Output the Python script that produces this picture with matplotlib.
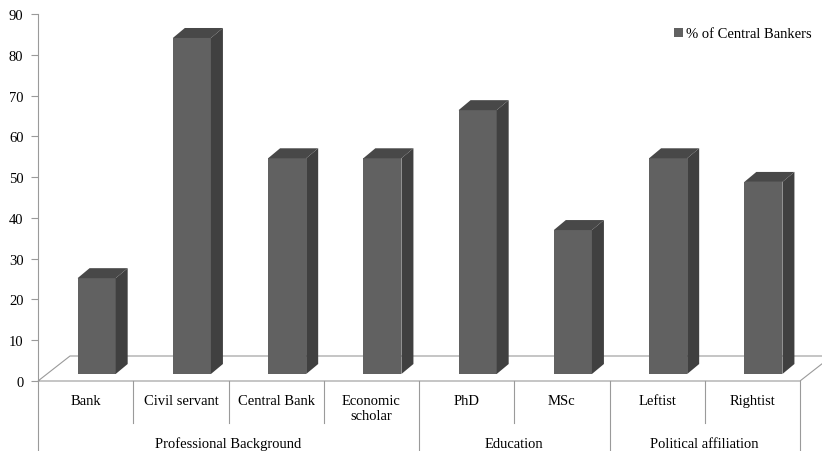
import matplotlib
matplotlib.use("Agg")
import matplotlib.pyplot as plt
import matplotlib.transforms as mtransforms
from matplotlib.patches import Polygon, Patch
from matplotlib.lines import Line2D

# data
categories = ["Bank", "Civil servant", "Central Bank", "Economic\nscholar",
              "PhD", "MSc", "Leftist", "Rightist"]
values = [23.5, 82.4, 52.9, 52.9, 64.7, 35.3, 52.9, 47.1]
groups = ["Professional Background", "Education", "Political affiliation"]
group_sizes = [4, 2, 2]
series_name = "% of Central Bankers"

plt.rcParams["font.family"] = "serif"
plt.rcParams["font.serif"] = ["Liberation Serif", "Times New Roman", "DejaVu Serif"]
plt.rcParams["font.size"] = 10.5

front_col = "#616161"
side_col = "#404040"
top_col = "#484848"
line_col = "#9a9a9a"

# pixel offsets for the fake 3d look
bar_dx, bar_dy = 11, 7
depth_dx, depth_dy = 12, 10
floor_dx, floor_dy = 32, 25
width = 0.40

fig = plt.figure(figsize=(8.22, 4.52), dpi=100)
ax = fig.add_axes([38 / 822, 70 / 452, 762 / 822, 367 / 452])
n = len(categories)
ax.set_xlim(-0.5, n - 0.5)
ax.set_ylim(0, 90)
ax.set_yticks(range(0, 91, 10))
ax.set_xticks([])
for s in ["top", "right", "bottom"]:
    ax.spines[s].set_visible(False)
ax.spines["left"].set_color(line_col)
ax.tick_params(axis="y", length=5, color=line_col, pad=5.5, labelsize=10.5)

to_px = ax.transData.transform
ident = mtransforms.IdentityTransform()

# floor (outline only)
x0, y0 = to_px((-0.5, 0))
x1, _ = to_px((n - 0.5, 0))
floor = [(x0, y0), (x1, y0), (x1 + floor_dx, y0 + floor_dy),
         (x0 + floor_dx, y0 + floor_dy)]
ax.add_patch(Polygon(floor, closed=True, fill=False, edgecolor=line_col,
                     lw=0.8, transform=ident, clip_on=False, zorder=1))

# front faces
shift = mtransforms.ScaledTranslation(bar_dx / 100, bar_dy / 100,
                                      fig.dpi_scale_trans)
ax.bar(range(n), values, width=width, color=front_col,
       transform=ax.transData + shift, zorder=3, clip_on=False)

# side and top faces
for i, v in enumerate(values):
    xl, yb = to_px((i - width / 2, 0))
    xr, yt = to_px((i + width / 2, v))
    xl += bar_dx
    xr += bar_dx
    yb += bar_dy
    yt += bar_dy
    side = [(xr, yb), (xr, yt), (xr + depth_dx, yt + depth_dy),
            (xr + depth_dx, yb + depth_dy)]
    top = [(xl, yt), (xr, yt), (xr + depth_dx, yt + depth_dy),
           (xl + depth_dx, yt + depth_dy)]
    ax.add_patch(Polygon(side, closed=True, facecolor=side_col,
                         edgecolor="none", transform=ident, clip_on=False,
                         zorder=3))
    ax.add_patch(Polygon(top, closed=True, facecolor=top_col,
                         edgecolor="none", transform=ident, clip_on=False,
                         zorder=3))

# category labels
for i, cat in enumerate(categories):
    ax.annotate(cat, xy=(i, 0), xycoords=("data", "axes fraction"),
                xytext=(0, -9.5), textcoords="offset points",
                ha="center", va="top", linespacing=1.15)

# group labels and dividers
bounds = [-0.5]
for size in group_sizes:
    bounds.append(bounds[-1] + size)
for g, name in enumerate(groups):
    mid = (bounds[g] + bounds[g + 1]) / 2
    ax.annotate(name, xy=(mid, 0), xycoords=("data", "axes fraction"),
                xytext=(0, -40), textcoords="offset points",
                ha="center", va="top")

for k in range(n + 1):
    xb = k - 0.5
    px, py = to_px((xb, 0))
    depth = 70 if xb in bounds else 42
    ax.add_line(Line2D([px, px], [py, py - depth], color=line_col, lw=0.8,
                       transform=ident, clip_on=False))

handle = Patch(facecolor=front_col, edgecolor="none")
fig.legend([handle], [series_name], loc="center left",
           bbox_to_anchor=(674 / 822, 1 - 35 / 452), frameon=False,
           borderpad=0, borderaxespad=0, handlelength=0.65,
           handleheight=0.65, handletextpad=0.2)

fig.savefig("out.png", dpi=100)
